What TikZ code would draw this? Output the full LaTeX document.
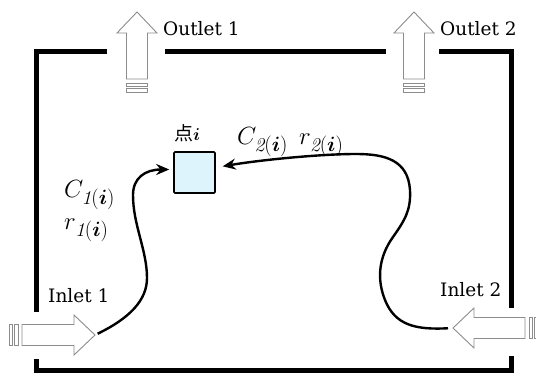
\documentclass[tikz,border=0pt]{standalone}
\usepackage{amsmath,amssymb}
\usepackage{fontspec}
\newfontfamily\cjk{Noto Sans CJK JP}
\newfontfamily\portfont{DejaVu Serif}
\usetikzlibrary{arrows.meta, positioning, calc}
\tikzstyle{wall} = [line width=5pt, line cap=butt, line join=miter]
\tikzstyle{cell} = [draw, rectangle, rounded corners=1pt, line width=1.6pt, fill=cyan!13, minimum width=41pt, minimum height=41pt, inner sep=0pt]
\tikzstyle{port} = [font=\portfont\fontsize{18.5}{22}\selectfont, anchor=base west, inner sep=0pt]
\tikzstyle{sym} = [font=\fontsize{28}{32}\selectfont, anchor=base west, inner sep=0pt]
\tikzstyle{hollow} = [draw=black!45, fill=white, line width=0.9pt, line join=miter]
\tikzstyle{flow} = [line width=2.4pt, -{Stealth[length=13pt,width=11pt]}]
\tikzset{
  pics/portarrow/.style={code={
    \draw[hollow] (0,0) -- (-21,20) -- (-21,10.5) -- (-#1,10.5) -- (-#1,-10.5) -- (-21,-10.5) -- (-21,-20) -- cycle;
    \draw[hollow] ({-#1-4},-10.5) rectangle ({-#1-7.5},10.5);
    \draw[hollow] ({-#1-9.5},-10.5) rectangle ({-#1-13},10.5);
  }}
}

\begin{document}
\begin{tikzpicture}[x=1pt, y=-1pt]
    \useasboundingbox (0,0) rectangle (536,374);

    % Walls
    \draw[wall] (107,52) -- (36,52) -- (36,312);
    \draw[wall] (165,52) -- (386,52);
    \draw[wall] (439,52) -- (511,52) -- (511,308);
    \draw[wall] (36,359) -- (36,370) -- (511,370) -- (511,356);

    % Ports
    \pic[rotate=90] at (137,12) {portarrow=67};
    \pic[rotate=90] at (414,12) {portarrow=67};
    \pic at (95,335) {portarrow=73};
    \pic[rotate=180] at (453,328) {portarrow=72};
    \coordinate (in1) at (95,335);
    \coordinate (in2) at (453,328);

    % Nodes
    \node[port] (out1lbl) at (163,36) {Outlet 1};
    \node[port] (out2lbl) at (440,36) {Outlet 2};
    \node[port] (in1lbl) at (48,303) {Inlet 1};
    \node[port] (in2lbl) at (440,297) {Inlet 2};
    \node[cell] (pt) at (194.5,172.5) {};
    \node[anchor=base west, inner sep=0pt, font=\fontsize{19}{22}\selectfont] (ptlbl) at (174,141) {{\cjk 点}$\boldsymbol{i}$};
    \node[sym] (src1a) at (64,198) {$C_{\mathit{1}(\boldsymbol{i})}$};
    \node[sym] (src1b) at (64,230) {$r_{\mathit{1}(\boldsymbol{i})}$};
    \node[sym] (src2) at (237,145) {$C_{\mathit{2}(\boldsymbol{i})}\;\,r_{\mathit{2}(\boldsymbol{i})}$};

    % Arrows
    \draw[flow, shorten <=3pt, shorten >=4pt] (in1) .. controls (130,318) and (147,300) .. (147,278)
        .. controls (147,250) and (133,225) .. (133,195)
        .. controls (133,178) and (145,169.5) .. ([yshift=3pt]pt.west);
    \draw[flow, shorten <=5pt, shorten >=7pt] (in2) .. controls (415,330) and (395,325) .. (385,300)
        .. controls (377,280) and (378,258) .. (393,237)
        .. controls (405,220) and (411,210) .. (410,190)
        .. controls (408,160) and (385,154) .. (356,154)
        .. controls (320,154) and (260,160) .. ([yshift=5pt]pt.east);
\end{tikzpicture}
\end{document}
